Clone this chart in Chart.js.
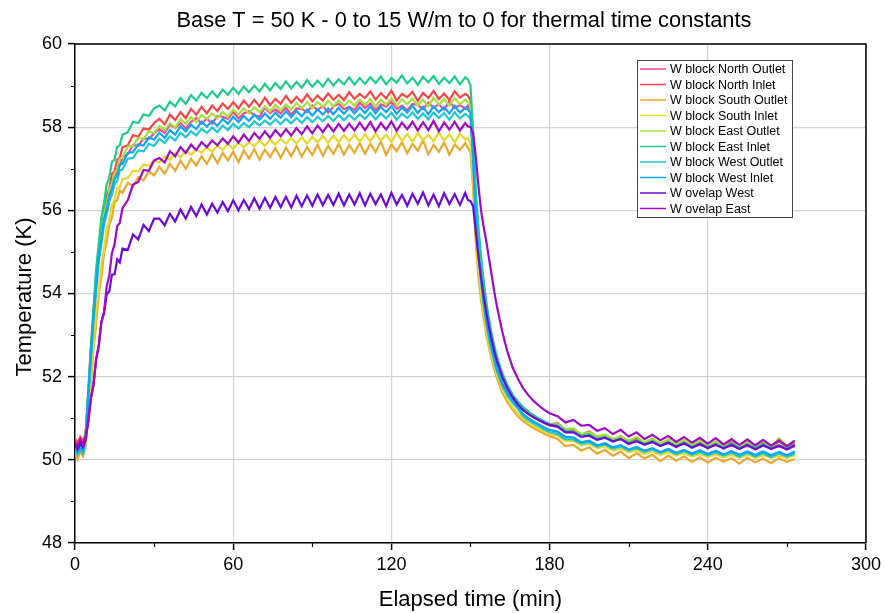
<!DOCTYPE html>
<html lang="en">
<head>
    <meta charset="UTF-8">
    <title>Base T = 50 K - thermal time constants</title>
    <script src="https://cdn.jsdelivr.net/npm/chart.js"></script>
    <style>
        body {
            margin: 0;
            padding: 0;
            background-color: #fff;
        }

        #chart {
            display: block;
        }
    </style>
</head>
<body>
    <canvas id="chart" width="885" height="613"></canvas>

    <script>
        // Tempo decorrido (min) - grade comum a todas as curvas
        const minutes = [0, 1, 2, 3,
            4, 5, 6, 7, 8, 9, 10, 11, 12, 13, 14, 15, 16, 17, 18, 20, 22, 24, 26, 28, 30,
            32, 34, 36, 38, 40, 42, 44, 46, 48, 50, 52, 54, 56, 58, 60, 62, 64, 66, 68, 70,
            72, 74, 76, 78, 80, 82, 84, 86, 88, 90, 92, 94, 96, 98, 100, 102, 104, 106, 108,
            110, 112, 114, 116, 118, 120, 122, 124, 126, 128, 130, 132, 134, 136, 138, 140, 142, 144, 146, 148,
            149, 150, 151, 152, 153, 154, 155, 156, 157, 158, 159, 160, 162, 164, 166, 168, 170, 172, 174, 176, 178, 180,
            183, 186, 189, 192, 195, 198, 201, 204, 207, 210, 213, 216, 219, 222, 225, 228, 231, 234, 237, 240,
            243, 246, 249, 252, 255, 258, 261, 264, 267, 270, 273];

        const seriesNames = ['W block North Outlet', 'W block North Inlet', 'W block South Outlet', 'W block South Inlet',
            'W block East Outlet', 'W block East Inlet', 'W block West Outlet', 'W block West Inlet',
            'W ovelap West', 'W ovelap East'];

        const seriesColors = ['#f2479b', '#f64545', '#e8a92e', '#e6d92a', '#a6e03a',
            '#1dcc88', '#1ec8cf', '#0ea5f5', '#6c0ad8', '#9e0bc4'];

        const northOutlet = [50.42, 50.35, 50.47, 50.38,
            50.55, 51.5, 52.55, 53.4, 54.28, 54.85, 55.42, 55.75, 56.16, 56.33, 56.66, 56.74, 56.99, 57.07, 57.28, 57.35, 57.57, 57.55, 57.73, 57.72, 57.85,
            57.95, 57.86, 58.06, 57.98, 58.1, 57.97, 58.13, 58.22, 58.09, 58.21,
            58.08, 58.27, 58.25, 58.2, 58.37, 58.21, 58.33, 58.38, 58.29, 58.25,
            58.47, 58.34, 58.43, 58.33, 58.47, 58.3, 58.45, 58.44, 58.36, 58.52,
            58.41, 58.51, 58.35, 58.5, 58.56, 58.43, 58.49, 58.41, 58.59,
            58.46, 58.57, 58.41, 58.55, 58.49, 58.61, 58.44, 58.52, 58.4, 58.56, 58.54, 58.43, 58.59, 58.47, 58.55, 58.42, 58.62, 58.46, 58.53, 58.44,
            58.52, 58.4, 57.4, 56.05, 55.2, 54.58, 54.02, 53.56, 53.2, 52.88, 52.6, 52.36, 51.98, 51.7, 51.49, 51.33, 51.2, 51.1, 51.02, 50.95, 50.88, 50.83,
            50.8, 50.7, 50.68, 50.6, 50.6, 50.52, 50.53, 50.47, 50.5, 50.42, 50.45, 50.39, 50.43, 50.36, 50.4, 50.34, 50.38, 50.32, 50.36, 50.31,
            50.35, 50.3, 50.34, 50.29, 50.33, 50.28, 50.34, 50.29, 50.32, 50.27, 50.33];

        const northInlet = [50.5, 50.42, 50.55, 50.46,
            50.62, 51.58, 52.66, 53.5, 54.42, 55.0, 55.62, 55.93, 56.37, 56.52, 56.88, 56.94, 57.22, 57.27, 57.52, 57.56, 57.81, 57.77, 57.97, 57.94, 58.1,
            58.2, 58.07, 58.3, 58.17, 58.36, 58.22, 58.44, 58.3, 58.49, 58.33,
            58.52, 58.39, 58.57, 58.44, 58.6, 58.45, 58.64, 58.49, 58.66, 58.5,
            58.71, 58.53, 58.68, 58.56, 58.75, 58.58, 58.73, 58.6, 58.79, 58.62,
            58.76, 58.64, 58.81, 58.66, 58.78, 58.65, 58.84, 58.68, 58.8,
            58.7, 58.86, 58.66, 58.82, 58.69, 58.88, 58.64, 58.8, 58.72, 58.85, 58.63, 58.83, 58.7, 58.87, 58.67, 58.81, 58.65, 58.86, 58.71, 58.8,
            58.76, 58.65, 57.6, 56.2, 55.35, 54.7, 54.12, 53.65, 53.27, 52.95, 52.67, 52.42, 52.03, 51.75, 51.53, 51.37, 51.24, 51.13, 51.05, 50.98, 50.91, 50.85,
            50.88, 50.72, 50.74, 50.6, 50.68, 50.55, 50.6, 50.49, 50.57, 50.45, 50.52, 50.41, 50.5, 50.38, 50.47, 50.36, 50.46, 50.34, 50.44, 50.33,
            50.43, 50.32, 50.42, 50.3, 50.45, 50.31, 50.41, 50.3, 50.44, 50.32, 50.4];

        const southOutlet = [50.18, 50.02, 50.2, 50.08,
            50.28, 50.98, 51.75, 52.65, 53.25, 53.95, 54.4, 54.96, 55.24, 55.66, 55.82, 56.2, 56.24, 56.48, 56.42, 56.66, 56.58, 56.8, 56.72, 56.93, 56.84,
            57.05, 56.88, 57.12, 56.95, 57.2, 57.0, 57.24, 57.08, 57.3, 57.12,
            57.35, 57.14, 57.38, 57.2, 57.41, 57.16, 57.44, 57.25, 57.47, 57.22,
            57.46, 57.28, 57.5, 57.26, 57.51, 57.3, 57.55, 57.29, 57.52, 57.33,
            57.58, 57.31, 57.55, 57.36, 57.6, 57.34, 57.57, 57.38, 57.62,
            57.36, 57.6, 57.4, 57.66, 57.33, 57.58, 57.42, 57.64, 57.37, 57.6, 57.44, 57.68, 57.35, 57.57, 57.41, 57.63, 57.34, 57.59, 57.45, 57.62,
            57.5, 57.4, 56.5, 55.2, 54.4, 53.85, 53.4, 53.0, 52.7, 52.42, 52.18, 51.97, 51.63, 51.38, 51.2, 51.05, 50.93, 50.84, 50.76, 50.69, 50.63, 50.57,
            50.5, 50.33, 50.36, 50.22, 50.3, 50.15, 50.24, 50.1, 50.2, 50.04, 50.16, 50.03, 50.12, 49.97, 50.1, 49.98, 50.08, 49.95, 50.06, 49.93,
            50.05, 49.96, 50.04, 49.91, 50.05, 49.94, 50.03, 49.92, 50.04, 49.95, 50.02];

        const southInlet = [50.25, 50.15, 50.3, 50.2,
            50.38, 51.02, 51.98, 52.77, 53.54, 54.06, 54.7, 55.06, 55.55, 55.76, 56.1, 56.26, 56.53, 56.56, 56.75, 56.78, 56.95, 56.94, 57.1, 57.07, 57.2,
            57.15, 57.29, 57.22, 57.38, 57.28, 57.44, 57.33, 57.47, 57.38, 57.52,
            57.41, 57.56, 57.45, 57.6, 57.48, 57.63, 57.51, 57.64, 57.54, 57.68,
            57.55, 57.7, 57.58, 57.72, 57.6, 57.74, 57.61, 57.76, 57.6, 57.77,
            57.63, 57.79, 57.62, 57.8, 57.64, 57.81, 57.66, 57.82, 57.65,
            57.83, 57.66, 57.85, 57.68, 57.82, 57.64, 57.87, 57.67, 57.84, 57.65, 57.86, 57.69, 57.81, 57.66, 57.88, 57.68, 57.83, 57.63, 57.85, 57.7,
            57.74, 57.6, 56.75, 55.45, 54.6, 54.0, 53.52, 53.1, 52.78, 52.5, 52.25, 52.04, 51.7, 51.45, 51.26, 51.11, 50.99, 50.89, 50.81, 50.74, 50.68, 50.62,
            50.58, 50.45, 50.45, 50.35, 50.38, 50.28, 50.32, 50.22, 50.27, 50.18, 50.23, 50.14, 50.2, 50.12, 50.18, 50.1, 50.16, 50.08, 50.14, 50.07,
            50.13, 50.06, 50.12, 50.05, 50.12, 50.04, 50.11, 50.05, 50.1, 50.04, 50.11];

        const eastOutlet = [50.38, 50.3, 50.42, 50.33,
            50.52, 51.58, 52.5, 53.49, 54.24, 55.0, 55.41, 55.9, 56.15, 56.49, 56.64, 56.9, 56.98, 57.24, 57.27, 57.53, 57.55, 57.74, 57.72, 57.9, 57.85,
            58.03, 57.93, 58.1, 57.99, 58.19, 58.08, 58.24, 58.12, 58.29, 58.2,
            58.33, 58.21, 58.37, 58.25, 58.42, 58.3, 58.45, 58.33, 58.48, 58.36,
            58.5, 58.38, 58.54, 58.4, 58.55, 58.42, 58.58, 58.45, 58.6, 58.46,
            58.61, 58.48, 58.63, 58.5, 58.65, 58.51, 58.64, 58.52, 58.67,
            58.53, 58.68, 58.5, 58.66, 58.54, 58.7, 58.51, 58.67, 58.55, 58.69, 58.52, 58.66, 58.5, 58.71, 58.54, 58.68, 58.52, 58.7, 58.55, 58.66,
            58.6, 58.5, 57.48, 56.1, 55.26, 54.62, 54.06, 53.6, 53.23, 52.91, 52.64, 52.4, 52.01, 51.73, 51.51, 51.35, 51.22, 51.12, 51.04, 50.97, 50.9, 50.84,
            50.86, 50.74, 50.76, 50.62, 50.66, 50.56, 50.61, 50.5, 50.56, 50.46, 50.55, 50.42, 50.5, 50.4, 50.49, 50.37, 50.48, 50.35, 50.47, 50.34,
            50.44, 50.33, 50.5, 50.32, 50.43, 50.31, 50.46, 50.3, 50.52, 50.33, 50.47];

        const eastInlet = [50.35, 50.28, 50.4, 50.3,
            50.58, 51.6, 52.72, 53.62, 54.58, 55.2, 55.83, 56.17, 56.62, 56.79, 57.16, 57.22, 57.52, 57.57, 57.82, 57.88, 58.13, 58.1, 58.31, 58.27, 58.45,
            58.52, 58.4, 58.61, 58.5, 58.7, 58.56, 58.77, 58.64, 58.83, 58.7,
            58.86, 58.72, 58.9, 58.78, 58.95, 58.8, 58.98, 58.84, 59.0, 58.86,
            59.04, 58.89, 59.06, 58.92, 59.1, 58.93, 59.09, 58.95, 59.13, 58.97,
            59.12, 58.98, 59.16, 59.0, 59.15, 59.03, 59.2, 59.02, 59.18,
            59.04, 59.2, 59.06, 59.22, 59.03, 59.18, 59.07, 59.24, 59.05, 59.19, 59.02, 59.21, 59.08, 59.23, 59.04, 59.19, 59.06, 59.22, 59.03, 59.2,
            59.15, 59.0, 57.9, 56.5, 55.6, 54.9, 54.3, 53.8, 53.4, 53.05, 52.75, 52.5, 52.1, 51.8, 51.57, 51.4, 51.27, 51.16, 51.07, 50.99, 50.92, 50.86,
            50.82, 50.7, 50.68, 50.58, 50.62, 50.5, 50.55, 50.46, 50.5, 50.41, 50.47, 50.38, 50.45, 50.35, 50.42, 50.33, 50.41, 50.31, 50.4, 50.3,
            50.38, 50.29, 50.39, 50.28, 50.37, 50.28, 50.38, 50.27, 50.36, 50.27, 50.37];

        const westOutlet = [50.2, 50.12, 50.25, 50.15,
            50.46, 51.48, 52.38, 53.34, 54.06, 54.78, 55.18, 55.66, 55.9, 56.22, 56.38, 56.64, 56.7, 56.96, 56.98, 57.24, 57.26, 57.44, 57.42, 57.6, 57.55,
            57.72, 57.62, 57.78, 57.68, 57.87, 57.76, 57.9, 57.8, 57.96, 57.86,
            57.99, 57.88, 58.04, 57.93, 58.08, 57.97, 58.1, 58.0, 58.14, 58.04,
            58.16, 58.06, 58.19, 58.07, 58.2, 58.09, 58.22, 58.1, 58.24, 58.12,
            58.25, 58.14, 58.27, 58.15, 58.29, 58.17, 58.3, 58.18, 58.31,
            58.2, 58.34, 58.19, 58.33, 58.21, 58.35, 58.18, 58.32, 58.22, 58.36, 58.2, 58.33, 58.19, 58.35, 58.22, 58.34, 58.18, 58.36, 58.21, 58.32,
            58.27, 58.2, 57.2, 55.72, 54.93, 54.28, 53.73, 53.28, 52.93, 52.63, 52.38, 52.14, 51.79, 51.55, 51.37, 51.22, 51.05, 50.95, 50.87, 50.8, 50.73, 50.67,
            50.62, 50.5, 50.49, 50.39, 50.42, 50.32, 50.37, 50.27, 50.32, 50.22, 50.28, 50.19, 50.25, 50.16, 50.23, 50.14, 50.21, 50.12, 50.19, 50.11,
            50.18, 50.1, 50.17, 50.08, 50.17, 50.08, 50.16, 50.07, 50.16, 50.08, 50.15];

        const westInlet = [50.25, 50.18, 50.32, 50.22,
            50.5, 51.55, 52.46, 53.43, 54.16, 54.9, 55.3, 55.78, 56.03, 56.36, 56.5, 56.77, 56.83, 57.1, 57.12, 57.38, 57.4, 57.59, 57.56, 57.75, 57.7,
            57.87, 57.74, 57.93, 57.82, 58.02, 57.9, 58.06, 57.95, 58.13, 58.01,
            58.15, 58.03, 58.2, 58.08, 58.25, 58.12, 58.27, 58.15, 58.3, 58.18,
            58.33, 58.2, 58.35, 58.23, 58.38, 58.24, 58.39, 58.26, 58.42, 58.28,
            58.43, 58.3, 58.45, 58.31, 58.46, 58.32, 58.47, 58.33, 58.48,
            58.34, 58.5, 58.33, 58.49, 58.36, 58.51, 58.32, 58.48, 58.35, 58.52, 58.34, 58.49, 58.31, 58.5, 58.36, 58.48, 58.33, 58.51, 58.35, 58.47,
            58.42, 58.35, 57.3, 55.8, 55.0, 54.35, 53.8, 53.35, 53.0, 52.7, 52.45, 52.2, 51.85, 51.6, 51.42, 51.27, 51.1, 51.0, 50.92, 50.85, 50.78, 50.72,
            50.68, 50.55, 50.54, 50.42, 50.46, 50.35, 50.4, 50.3, 50.35, 50.25, 50.31, 50.22, 50.28, 50.19, 50.26, 50.17, 50.24, 50.15, 50.23, 50.14,
            50.22, 50.13, 50.21, 50.12, 50.2, 50.12, 50.2, 50.11, 50.19, 50.11, 50.2];

        const overlapWest = [50.35, 50.25, 50.4, 50.3,
            50.48, 50.9, 51.47, 51.8, 52.42, 52.74, 53.33, 53.52, 53.98, 54.05, 54.45, 54.46, 54.82, 54.75, 55.08, 55.05, 55.42, 55.3, 55.65, 55.5, 55.8,
            55.8, 55.64, 55.92, 55.73, 56.02, 55.8, 56.08, 55.86, 56.14, 55.9,
            56.16, 55.95, 56.2, 55.98, 56.24, 56.0, 56.25, 56.03, 56.29, 56.04,
            56.3, 56.06, 56.32, 56.08, 56.33, 56.07, 56.35, 56.1, 56.36, 56.11,
            56.38, 56.12, 56.37, 56.13, 56.4, 56.12, 56.38, 56.14, 56.41,
            56.12, 56.4, 56.15, 56.38, 56.1, 56.42, 56.14, 56.37, 56.11, 56.4, 56.16, 56.43, 56.12, 56.38, 56.1, 56.41, 56.15, 56.39, 56.13, 56.42,
            56.25, 56.22, 56.1, 55.5, 54.9, 54.4, 53.95, 53.55, 53.2, 52.9, 52.62, 52.38, 52.0, 51.72, 51.5, 51.33, 51.2, 51.1, 51.02, 50.95, 50.89, 50.84,
            50.8, 50.66, 50.66, 50.55, 50.58, 50.48, 50.53, 50.44, 50.5, 50.38, 50.45, 50.36, 50.43, 50.33, 50.41, 50.31, 50.4, 50.29, 50.38, 50.28,
            50.37, 50.27, 50.36, 50.26, 50.36, 50.25, 50.35, 50.26, 50.34, 50.25, 50.35];

        const overlapEast = [50.42, 50.32, 50.48, 50.36,
            50.55, 50.9, 51.46, 51.8, 52.4, 52.75, 53.3, 53.55, 54.16, 54.44, 54.97, 55.18, 55.62, 55.7, 56.05, 56.24, 56.62, 56.68, 56.97, 56.95, 57.2,
            57.26, 57.15, 57.42, 57.3, 57.52, 57.38, 57.58, 57.45, 57.64, 57.52,
            57.68, 57.56, 57.73, 57.6, 57.78, 57.63, 57.82, 57.67, 57.86, 57.72,
            57.9, 57.74, 57.93, 57.78, 57.95, 57.8, 57.98, 57.83, 58.02, 57.85,
            58.04, 57.88, 58.06, 57.9, 58.08, 57.91, 58.08, 57.92, 58.11,
            57.93, 58.12, 57.9, 58.1, 57.94, 58.14, 57.91, 58.11, 57.95, 58.13, 57.92, 58.12, 57.93, 58.15, 57.9, 58.11, 57.94, 58.13, 57.92, 58.1,
            58.02, 58.0, 57.85, 57.3, 56.6, 56.0, 55.6, 55.25, 54.85, 54.45, 54.05, 53.7, 53.1, 52.6, 52.22, 51.95, 51.72, 51.55, 51.41, 51.3, 51.2, 51.12,
            51.05, 50.9, 50.96, 50.82, 50.84, 50.7, 50.76, 50.62, 50.72, 50.56, 50.66, 50.5, 50.6, 50.47, 50.57, 50.43, 50.55, 50.41, 50.53, 50.39,
            50.52, 50.37, 50.5, 50.36, 50.49, 50.35, 50.48, 50.34, 50.47, 50.33, 50.46];

        const seriesValues = [northOutlet, northInlet, southOutlet, southInlet, eastOutlet,
            eastInlet, westOutlet, westInlet, overlapWest, overlapEast];

        // Marcas secundárias dos eixos
        const minorX = [30, 90, 150, 210, 270];
        const minorY = [49, 51, 53, 55, 57, 59];

        const titleText = 'Base T = 50 K - 0 to 15 W/m to 0 for thermal time constants';
        const xTitle = 'Elapsed time (min)';
        const yTitle = 'Temperature (K)';
        const fontFamily = "'Liberation Sans', Arial, sans-serif";

        Chart.defaults.font.family = fontFamily;
        Chart.defaults.color = '#000';

        // Título, eixos, moldura e legenda desenhados à mão
        const decorPlugin = {
            id: 'decor',
            afterDraw(chart) {
                const ctx = chart.ctx;
                const a = chart.chartArea;
                const x = chart.scales.x;
                const y = chart.scales.y;
                ctx.save();

                ctx.strokeStyle = '#000';
                ctx.lineWidth = 1.5;
                ctx.beginPath();
                ctx.moveTo(a.left, a.top);
                ctx.lineTo(a.right, a.top);
                ctx.lineTo(a.right, a.bottom);
                ctx.stroke();

                ctx.lineWidth = 1.2;
                ctx.beginPath();
                minorY.forEach(v => {
                    const py = Math.round(y.getPixelForValue(v)) + 0.5;
                    ctx.moveTo(a.left - 4, py);
                    ctx.lineTo(a.left, py);
                });
                minorX.forEach(v => {
                    const px = Math.round(x.getPixelForValue(v)) + 0.5;
                    ctx.moveTo(px, a.bottom);
                    ctx.lineTo(px, a.bottom + 4);
                });
                ctx.stroke();

                ctx.fillStyle = '#000';
                ctx.textAlign = 'center';
                ctx.textBaseline = 'middle';
                ctx.font = '21.8px ' + fontFamily;
                ctx.fillText(titleText, 464, 21);

                ctx.font = '22px ' + fontFamily;
                ctx.fillText(xTitle, (a.left + a.right) / 2, 600);
                ctx.save();
                ctx.translate(25, 297);
                ctx.rotate(-Math.PI / 2);
                ctx.fillText(yTitle, 0, 0);
                ctx.restore();

                // legenda
                const lx = 637, ly = 60, lw = 155, lh = 157;
                ctx.fillStyle = '#fff';
                ctx.fillRect(lx, ly, lw, lh);
                ctx.strokeStyle = '#444';
                ctx.lineWidth = 1;
                ctx.strokeRect(lx + 0.5, ly + 0.5, lw, lh);
                ctx.font = '12.5px ' + fontFamily;
                ctx.textAlign = 'left';
                seriesNames.forEach((name, i) => {
                    const ry = ly + 9 + i * 15.5;
                    ctx.strokeStyle = seriesColors[i];
                    ctx.lineWidth = 1.5;
                    ctx.beginPath();
                    ctx.moveTo(lx + 3, ry);
                    ctx.lineTo(lx + 29, ry);
                    ctx.stroke();
                    ctx.fillStyle = '#000';
                    ctx.fillText(name, lx + 33, ry + 1);
                });

                ctx.restore();
            }
        };

        const datasets = seriesNames.map((name, i) => ({
            label: name,
            data: minutes.map((t, k) => ({ x: t, y: seriesValues[i][k] })),
            borderColor: seriesColors[i],
            backgroundColor: seriesColors[i],
            borderWidth: 2.2,
            pointRadius: 0,
            tension: 0,
            order: seriesNames.length - i
        }));

        const ctx = document.getElementById('chart').getContext('2d');
        new Chart(ctx, {
            type: 'line',
            data: { datasets: datasets },
            options: {
                responsive: false,
                animation: false,
                devicePixelRatio: 1,
                layout: { padding: { top: 44, right: 19, left: 0, bottom: 0 } },
                plugins: {
                    legend: { display: false },
                    title: { display: false },
                    tooltip: { enabled: false }
                },
                scales: {
                    x: {
                        type: 'linear',
                        min: 0,
                        max: 300,
                        ticks: { stepSize: 60, padding: 4, maxRotation: 0, font: { size: 18 }, color: '#000' },
                        grid: { color: '#d4d4d4', lineWidth: 1.2, tickColor: '#000', tickLength: 7, tickWidth: 1.5 },
                        border: { color: '#000', width: 1.5 },
                        afterFit: s => { s.height = 70; }
                    },
                    y: {
                        min: 48,
                        max: 60,
                        ticks: { stepSize: 2, padding: 6, font: { size: 18 }, color: '#000' },
                        grid: { color: '#d4d4d4', lineWidth: 1.2, tickColor: '#000', tickLength: 7, tickWidth: 1.5 },
                        border: { color: '#000', width: 1.5 },
                        afterFit: s => { s.width = 75; }
                    }
                }
            },
            plugins: [decorPlugin]
        });
    </script>
</body>
</html>
